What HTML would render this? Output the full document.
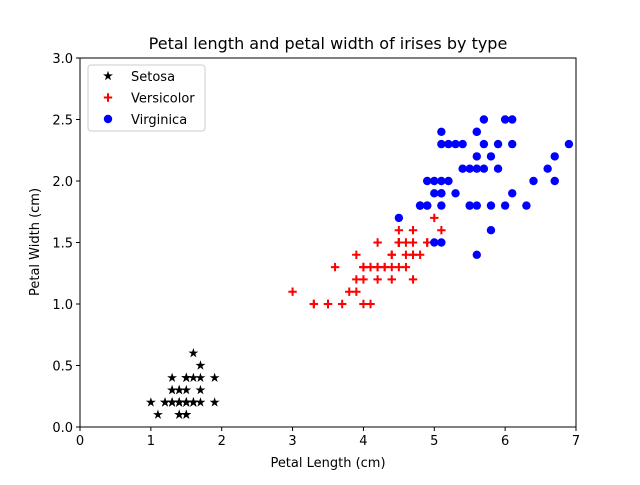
<!DOCTYPE html>
<html><head><meta charset="utf-8"><style>
body{margin:0;background:#fff;font-family:"Liberation Sans","DejaVu Sans",sans-serif}
svg text{font-family:"DejaVu Sans","Liberation Sans",sans-serif}
</style></head><body>
<svg id="chart" width="640" height="480" viewBox="0 0 640 480" xmlns="http://www.w3.org/2000/svg">
<rect width="640" height="480" fill="#fff"/>
<text x="328" y="49" font-size="16" text-anchor="middle">Petal length and petal width of irises by type</text>
<text x="328" y="467" font-size="13" text-anchor="middle">Petal Length (cm)</text>
<text x="0" y="0" font-size="13" text-anchor="middle" transform="translate(39,242) rotate(-90)">Petal Width (cm)</text>
<g id="ticks"></g>
<g id="marks"></g>
<rect x="80" y="58" width="496" height="369" fill="none" stroke="#000" stroke-width="1"/>
<g>
<rect x="88" y="65" width="117" height="66" rx="3" fill="#fff" fill-opacity="0.8" stroke="#ccc"/>
<g id="legend-items"></g>
</g>
</svg>
<script>
const xTicks=[0,1,2,3,4,5,6,7];
const yTicks=[0,0.5,1,1.5,2,2.5,3];
const yTickLabels=["0.0","0.5","1.0","1.5","2.0","2.5","3.0"];
const seriesNames=["Setosa","Versicolor","Virginica"];
const setosaLength=[1.4,1.4,1.3,1.5,1.4,1.7,1.4,1.5,1.4,1.5,1.5,1.6,1.4,1.1,1.2,1.5,1.3,1.4,1.7,1.5,1.7,1.5,1.0,1.7,1.9,1.6,1.6,1.5,1.4,1.6,1.6,1.5,1.5,1.4,1.5,1.2,1.3,1.4,1.3,1.5,1.3,1.3,1.3,1.6,1.9,1.4,1.6,1.4,1.5,1.4];
const setosaWidth=[0.2,0.2,0.2,0.2,0.2,0.4,0.3,0.2,0.2,0.1,0.2,0.2,0.1,0.1,0.2,0.4,0.4,0.3,0.3,0.3,0.2,0.4,0.2,0.5,0.2,0.2,0.4,0.2,0.2,0.2,0.2,0.4,0.1,0.2,0.2,0.2,0.2,0.1,0.2,0.2,0.3,0.3,0.2,0.6,0.4,0.3,0.2,0.2,0.2,0.2];
const versicolorLength=[4.7,4.5,4.9,4.0,4.6,4.5,4.7,3.3,4.6,3.9,3.5,4.2,4.0,4.7,3.6,4.4,4.5,4.1,4.5,3.9,4.8,4.0,4.9,4.7,4.3,4.4,4.8,5.0,4.5,3.5,3.8,3.7,3.9,5.1,4.5,4.5,4.7,4.4,4.1,4.0,4.4,4.6,4.0,3.3,4.2,4.2,4.2,4.3,3.0,4.1];
const versicolorWidth=[1.4,1.5,1.5,1.3,1.5,1.3,1.6,1.0,1.3,1.4,1.0,1.5,1.0,1.4,1.3,1.4,1.5,1.0,1.5,1.1,1.8,1.3,1.5,1.2,1.3,1.4,1.4,1.7,1.5,1.0,1.1,1.0,1.2,1.6,1.5,1.6,1.5,1.3,1.3,1.3,1.2,1.4,1.2,1.0,1.3,1.2,1.3,1.3,1.1,1.3];
const virginicaLength=[6.0,5.1,5.9,5.6,5.8,6.6,4.5,6.3,5.8,6.1,5.1,5.3,5.5,5.0,5.1,5.3,5.5,6.7,6.9,5.0,5.7,4.9,6.7,4.9,5.7,6.0,4.8,4.9,5.6,5.8,6.1,6.4,5.6,5.1,5.6,6.1,5.6,5.5,4.8,5.4,5.6,5.1,5.1,5.9,5.7,5.2,5.0,5.2,5.4,5.1];
const virginicaWidth=[2.5,1.9,2.1,1.8,2.2,2.1,1.7,1.8,1.8,2.5,2.0,1.9,2.1,2.0,2.4,2.3,1.8,2.2,2.3,1.5,2.3,2.0,2.0,1.8,2.1,1.8,1.8,1.8,2.1,1.6,1.9,2.0,2.2,1.5,1.4,2.3,2.4,1.8,1.8,2.1,2.4,2.3,1.9,2.3,2.5,2.3,1.9,2.0,2.3,1.8];

const NS="http://www.w3.org/2000/svg";
const X0=80,X1=576,Y0=427,Y1=58;
const xScale=v=>X0+(v-0)/(7-0)*(X1-X0);
const yScale=v=>Y0-(v-0)/(3-0)*(Y0-Y1);
function mk(tag,attrs,parent){const e=document.createElementNS(NS,tag);for(const k in attrs)e.setAttribute(k,attrs[k]);parent.appendChild(e);return e;}
const ticks=document.getElementById('ticks');
xTicks.forEach(t=>{const x=xScale(t);
 const l=mk('line',{x1:x,x2:x,y1:Y0,y2:Y0+4,stroke:'#000'},ticks);
 
 
 const tx=mk('text',{x:x,y:Y0+18,'font-size':13,'text-anchor':'middle'},ticks);tx.textContent=t;
 
 });
yTicks.forEach((t,i)=>{const y=yScale(t);
 const l=mk('line',{x1:X0-4,x2:X0,y1:y,y2:y,stroke:'#000'},ticks);
 
 
 const tx=mk('text',{x:X0-7,y:y+5,'font-size':13,'text-anchor':'end'},ticks);tx.textContent=yTickLabels[i];
 
 });
function star(cx,cy,r){let p=[];for(let i=0;i<10;i++){const a=-Math.PI/2+i*Math.PI/5;const rr=i%2?r*0.38:r;p.push((cx+rr*Math.cos(a)).toFixed(2)+','+(cy+rr*Math.sin(a)).toFixed(2));}return p.join(' ');}
function drawMarker(kind,cx,cy,parent){
 let e;
 if(kind===0){e=mk('polygon',{points:star(cx,cy,5.2),fill:'#000'},parent);}
 else if(kind===1){e=mk('path',{d:`M${cx-4.2},${cy}H${cx+4.2}M${cx},${cy-4.2}V${cy+4.2}`,stroke:'#f00','stroke-width':2,fill:'none'},parent);}
 else{e=mk('circle',{cx:cx,cy:cy,r:4.2,fill:'#00f'},parent);}
 return e;}
const marks=document.getElementById('marks');
const data=[[setosaLength,setosaWidth],[versicolorLength,versicolorWidth],[virginicaLength,virginicaWidth]];
data.forEach((s,k)=>{const g=mk('g',{},marks);
 
 
 s[0].forEach((v,i)=>{const e=drawMarker(k,xScale(v),yScale(s[1][i]),g);
  
  });});
const li=document.getElementById('legend-items');
seriesNames.forEach((n,k)=>{const y=76+k*21.5;
 const e=drawMarker(k,108,y,li);
 
 
 const t=mk('text',{x:131,y:y+5,'font-size':13},li);t.textContent=n;
 
 });
</script>
</body></html>
